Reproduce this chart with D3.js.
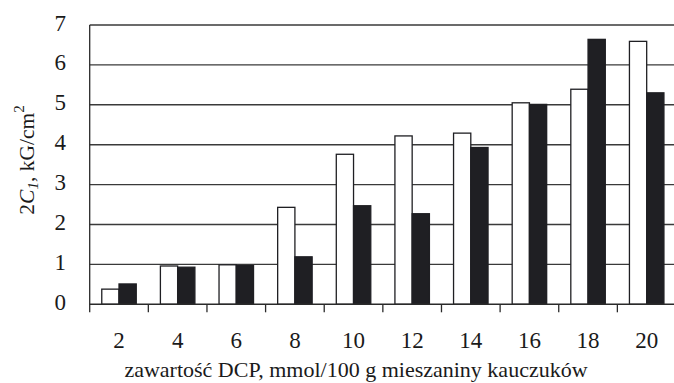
<!DOCTYPE html>
<html>
<head>
<meta charset="utf-8">
<script src="https://cdn.jsdelivr.net/npm/d3@7"></script>
<style>
  body { margin: 0; background: #fff; }
  text { font-family: "Liberation Serif", "Times New Roman", serif; fill: #1a1a1a; }
</style>
</head>
<body>
<svg id="chart" width="674" height="383"></svg>
<script>
// categories: DCP content, mmol/100 g
const categories = ["2", "4", "6", "8", "10", "12", "14", "16", "18", "20"];
const series = ["a", "b"];
// white bars
const valuesWhite = [0.38, 0.96, 0.99, 2.43, 3.76, 4.22, 4.29, 5.05, 5.39, 6.59];
// black bars
const valuesBlack = [0.51, 0.93, 0.97, 1.19, 2.47, 2.27, 3.93, 5.01, 6.64, 5.30];
const yTicks = [0, 1, 2, 3, 4, 5, 6, 7];

const svg = d3.select("#chart");

const plotLeft = 89.7, plotRight = 676, plotTop = 25, plotBottom = 304.3;

//scales
const x0 = d3.scaleBand().domain(categories).range([plotLeft, plotRight]).padding(0);
const x1 = d3.scaleBand().domain(series).range([0, x0.bandwidth()]).paddingInner(0).paddingOuter(0.7);
const y = d3.scaleLinear().domain([0, 7]).range([plotBottom, plotTop]);

//grid lines
svg.append("g")
  .selectAll("line")
  .data(yTicks.filter(d => d > 0))
  .join("line")
  .attr("x1", plotLeft).attr("x2", plotRight)
  .attr("y1", d => y(d)).attr("y2", d => y(d))
  .attr("stroke", "#3a3a3a")
  .attr("stroke-width", 1.4);

//bars
const rows = categories.map((c, i) => ({ cat: c, vals: [valuesWhite[i], valuesBlack[i]] }));
const groups = svg.append("g")
  .selectAll("g")
  .data(rows)
  .join("g")
  .attr("transform", d => `translate(${x0(d.cat)},0)`);

groups.selectAll("rect")
  .data(d => d.vals.map((v, j) => ({ key: series[j], v })))
  .join("rect")
  .attr("x", d => x1(d.key))
  .attr("width", x1.bandwidth())
  .attr("y", d => y(d.v))
  .attr("height", d => y(0) - y(d.v))
  .attr("fill", d => d.key === "a" ? "#ffffff" : "#1f1f23")
  .attr("stroke", "#1f1f23")
  .attr("stroke-width", 1.3);

//y axis labels
svg.append("g")
  .selectAll("text")
  .data(yTicks)
  .join("text")
  .attr("x", 66)
  .attr("y", d => y(d) - 2.5)
  .attr("dy", "0.35em")
  .attr("text-anchor", "end")
  .attr("font-size", 23)
  .text(d => d);

//left axis line
svg.append("line")
  .attr("x1", plotLeft).attr("x2", plotLeft)
  .attr("y1", plotTop).attr("y2", plotBottom + 8)
  .attr("stroke", "#2a2a2a").attr("stroke-width", 1.3);

//bottom axis with ticks at band edges
const xAxis = svg.append("g");
xAxis.append("line")
  .attr("x1", plotLeft).attr("x2", plotRight)
  .attr("y1", plotBottom).attr("y2", plotBottom)
  .attr("stroke", "#2a2a2a").attr("stroke-width", 1.4);
xAxis.selectAll("line.tick")
  .data(categories.slice(1))
  .join("line")
  .attr("class", "tick")
  .attr("x1", d => x0(d)).attr("x2", d => x0(d))
  .attr("y1", plotBottom).attr("y2", plotBottom + 8)
  .attr("stroke", "#2a2a2a").attr("stroke-width", 1.3);
xAxis.selectAll("text")
  .data(categories)
  .join("text")
  .attr("x", d => x0(d) + x0.bandwidth() / 2)
  .attr("y", 347.5)
  .attr("text-anchor", "middle")
  .attr("font-size", 23)
  .text(d => d);

//x axis title
svg.append("text")
  .attr("x", 356)
  .attr("y", 377)
  .attr("text-anchor", "middle")
  .attr("font-size", 22)
  .text("zawartość DCP, mmol/100 g mieszaniny kauczuków");

//y axis title
const yTitle = svg.append("text")
  .attr("transform", "translate(34,160) rotate(-90)")
  .attr("text-anchor", "middle")
  .attr("font-size", 21.5);
yTitle.append("tspan").text("2");
yTitle.append("tspan").attr("font-style", "italic").text("C");
yTitle.append("tspan").attr("font-style", "italic").attr("font-size", 15).attr("dy", 4).text("1");
yTitle.append("tspan").attr("dy", -4).text(", kG/cm");
yTitle.append("tspan").attr("font-size", 15).attr("dy", -10).text("2");
</script>
</body>
</html>
